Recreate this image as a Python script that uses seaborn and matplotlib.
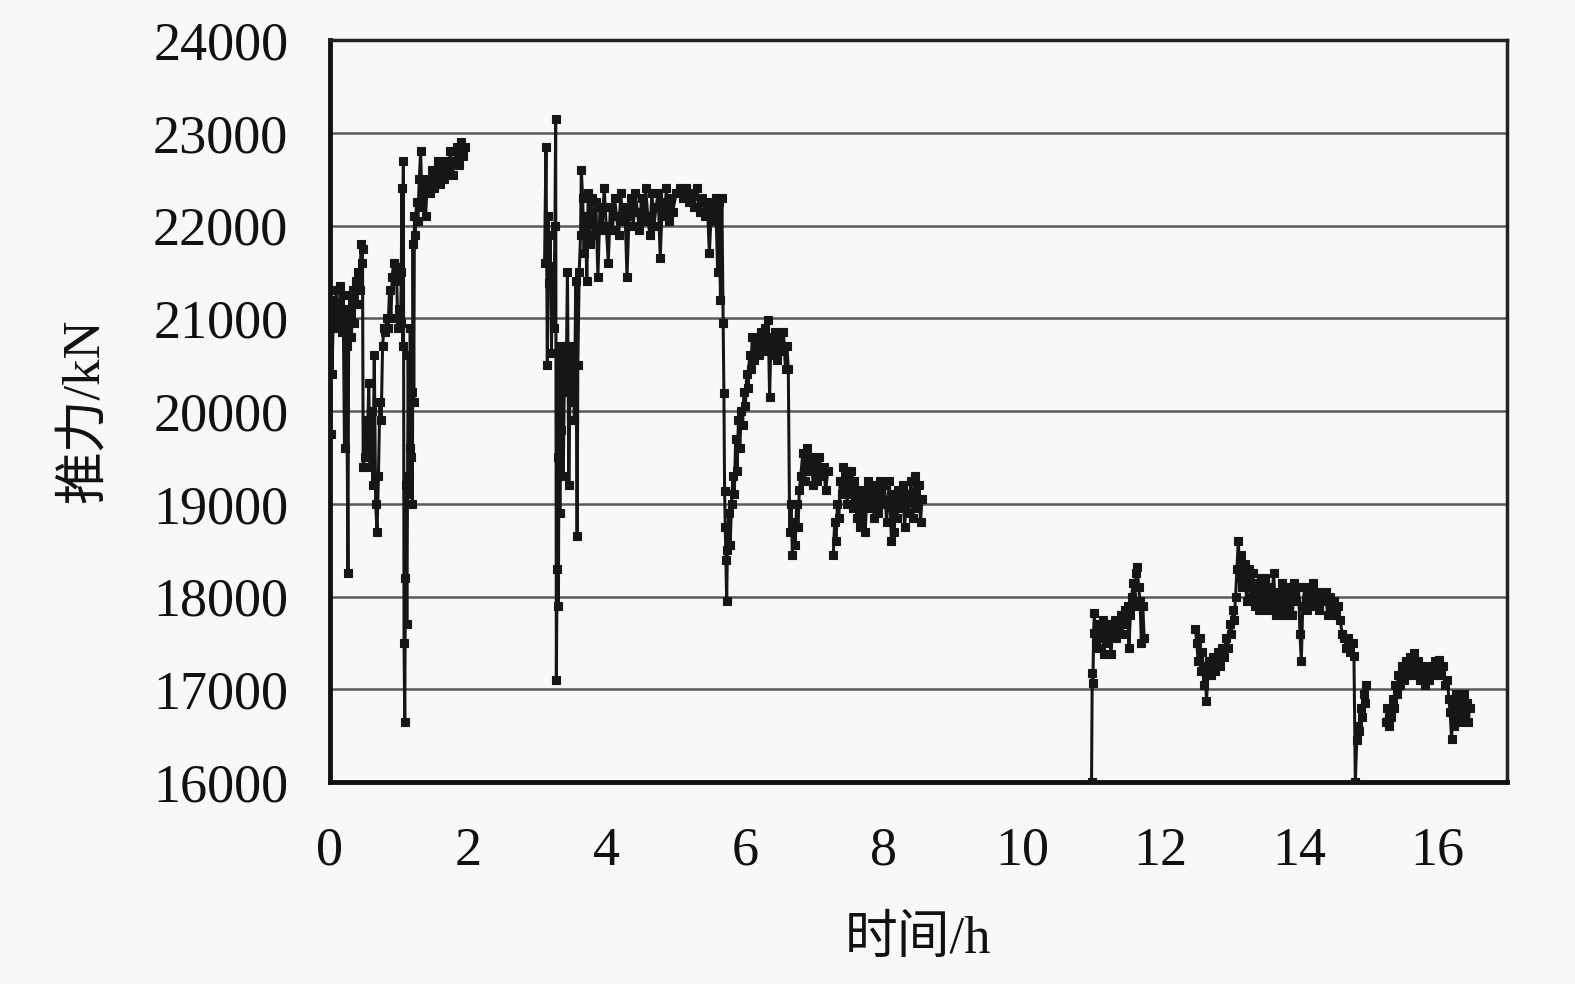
"""
Curva de empuje de la tuneladora (推力) frente al tiempo.
"""

import matplotlib
from matplotlib import pyplot as plt
import seaborn as sns
import pandas as pd

matplotlib.use('Agg')

sns.set_style("white")
# Las fuentes se fijan después de seaborn, que reinicia font.family
plt.rcParams['font.family'] = ['Liberation Serif', 'Noto Sans CJK SC', 'DejaVu Sans']
plt.rcParams['axes.unicode_minus'] = False

# Datos: tiempo (h) y empuje (kN), por tramos continuos
seg1_t = [0.00, 0.01, 0.02, 0.03, 0.05, 0.07, 0.09, 0.11, 0.13, 0.15,
          0.17, 0.19, 0.21, 0.22, 0.24, 0.26, 0.27, 0.29, 0.31, 0.33,
          0.35, 0.37, 0.39, 0.41, 0.43, 0.45, 0.46, 0.47, 0.48, 0.50,
          0.52, 0.54, 0.56, 0.58, 0.60, 0.62, 0.64, 0.66, 0.68, 0.70,
          0.72, 0.74, 0.76, 0.78, 0.80, 0.82, 0.84, 0.86, 0.88, 0.90,
          0.92, 0.94, 0.96, 0.98, 1.00, 1.02, 1.03, 1.04, 1.05, 1.06,
          1.07, 1.08, 1.09, 1.10, 1.11, 1.12, 1.13, 1.14, 1.15, 1.16,
          1.17, 1.18, 1.19, 1.20, 1.21, 1.22, 1.23, 1.25, 1.27, 1.29,
          1.31, 1.33, 1.35, 1.38, 1.41, 1.44, 1.47, 1.50, 1.53, 1.56,
          1.59, 1.62, 1.65, 1.68, 1.71, 1.74, 1.77, 1.80, 1.83, 1.86,
          1.89, 1.92, 1.95]
seg1_f = [21200, 19750, 21000, 20400, 21100, 20900, 21300, 20950, 21050, 21350,
          20850, 21250, 19600, 21100, 20700, 18250, 21000, 21250, 20800, 21300,
          20950, 21400, 21150, 21500, 21300, 21800, 21600, 21750, 19400, 19500,
          19900, 19600, 20300, 19400, 20000, 19200, 20600, 19000, 18700, 19300,
          20100, 19900, 20700, 20900, 20850, 21000, 20900, 21300, 21000, 21450,
          21600, 21400, 21550, 20900, 21100, 20950, 21500, 22400, 20700, 22700,
          17500, 16650, 18200, 19200, 17700, 19100, 20600, 19300, 19600, 20900,
          19500, 20200, 19000, 21800, 20100, 22100, 21900, 22250, 22050, 22500,
          22800, 22200, 22400, 22100, 22500, 22350, 22600, 22400, 22550, 22700,
          22450, 22650, 22500, 22700, 22600, 22800, 22550, 22700, 22850, 22650,
          22900, 22750, 22850]

seg2_t = [3.10, 3.12, 3.14, 3.15, 3.17, 3.18, 3.20, 3.21, 3.23, 3.25,
          3.26, 3.27, 3.28, 3.29, 3.30, 3.31, 3.32, 3.33, 3.35, 3.37,
          3.39, 3.41, 3.43, 3.45, 3.47, 3.49, 3.51, 3.53, 3.55, 3.57,
          3.58, 3.60, 3.62, 3.63, 3.65, 3.67, 3.69, 3.71, 3.73, 3.75,
          3.78, 3.81, 3.84, 3.87, 3.90, 3.93, 3.96, 3.99, 4.02, 4.05,
          4.08, 4.11, 4.14, 4.17, 4.20, 4.23, 4.26, 4.29, 4.32, 4.35,
          4.38, 4.41, 4.44, 4.47, 4.50, 4.53, 4.56, 4.59, 4.62, 4.65,
          4.68, 4.71, 4.74, 4.77, 4.80, 4.83, 4.86, 4.89, 4.92, 4.95,
          5.00, 5.05, 5.10, 5.14, 5.18, 5.22, 5.26, 5.30, 5.34, 5.38,
          5.42, 5.45, 5.48, 5.51, 5.54, 5.57, 5.60, 5.62, 5.64, 5.66,
          5.68, 5.69, 5.70, 5.71, 5.72, 5.73, 5.74, 5.76, 5.78, 5.80,
          5.82, 5.84, 5.86, 5.88, 5.90, 5.92, 5.94, 5.96, 5.98, 6.00,
          6.02, 6.04, 6.06, 6.08, 6.10, 6.13, 6.16, 6.19, 6.22, 6.25,
          6.28, 6.31, 6.33, 6.35, 6.37, 6.40, 6.43, 6.46, 6.49, 6.52,
          6.55, 6.58, 6.60, 6.62, 6.64, 6.66, 6.68, 6.70, 6.72, 6.74,
          6.76, 6.78, 6.80, 6.83, 6.86, 6.89, 6.92, 6.95, 6.98, 7.01,
          7.04, 7.07, 7.10, 7.13, 7.16, 7.19]
seg2_f = [21600, 22850, 20500, 22100, 21380, 21900, 20630, 21560, 20900, 22000,
          23150, 17100, 18300, 19500, 17900, 20700, 18900, 19800, 20600, 19300,
          20700, 20200, 21500, 19200, 20600, 20100, 20700, 19900, 21400, 18650,
          20500, 21500, 21900, 22600, 22300, 21700, 22100, 21400, 22350, 21800,
          22300, 21900, 22250, 21450, 22200, 21950, 22400, 22000, 21600, 22200,
          21950, 22300, 22100, 21900, 22350, 22050, 22200, 21450, 22100, 22300,
          22000, 22350, 22150, 21950, 22300, 22050, 22400, 22100, 21900, 22350,
          22000, 22200, 22350, 21650, 22250, 22100, 22400, 22050, 22300, 22150,
          22350, 22400, 22300, 22400, 22250, 22350, 22200, 22400, 22150, 22300,
          22100, 22250, 21700, 22200, 22050, 22300, 21500, 22250, 21200, 22300,
          20950, 20190, 19140, 18750, 18390, 17950, 18500, 18900, 18550, 19000,
          19300, 19100, 19700, 19350, 19900, 19600, 20000, 19850, 20200, 20050,
          20400, 20250, 20600, 20450, 20800, 20550, 20750, 20600, 20850, 20650,
          20900, 20700, 20980, 20150, 20800, 20600, 20850, 20550, 20800, 20650,
          20850, 20450, 20700, 20450, 18700, 19000, 18450, 18800, 18550, 19000,
          18750, 19150, 19300, 19550, 19250, 19600, 19350, 19500, 19200, 19450,
          19250, 19500, 19300, 19400, 19150, 19350]

seg3_t = [7.27, 7.29, 7.31, 7.33, 7.35, 7.37, 7.39, 7.41, 7.43, 7.45,
          7.47, 7.49, 7.51, 7.53, 7.55, 7.57, 7.59, 7.61, 7.63, 7.65,
          7.67, 7.69, 7.71, 7.73, 7.75, 7.77, 7.80, 7.83, 7.86, 7.89,
          7.92, 7.95, 7.98, 8.01, 8.04, 8.08, 8.11, 8.13, 8.15, 8.17,
          8.19, 8.21, 8.24, 8.27, 8.30, 8.33, 8.36, 8.39, 8.42, 8.45,
          8.48, 8.51, 8.53, 8.55]
seg3_f = [18450, 18800, 18600, 19000, 18850, 19250, 19100, 19400, 19150, 19350,
          19000, 19300, 19100, 19350, 18950, 19250, 19050, 18850, 19150, 18750,
          19050, 18850, 19150, 18700, 19000, 19250, 18950, 19200, 18850, 19150,
          18900, 19250, 19000, 19200, 18800, 19250, 18600, 19100, 18700, 19050,
          18850, 19150, 18950, 19200, 18750, 19100, 18900, 19250, 18850, 19300,
          18950, 19200, 18800, 19050]

seg4_t = [11.00, 11.01, 11.02, 11.03, 11.04, 11.06, 11.08, 11.10, 11.12, 11.14,
          11.16, 11.18, 11.20, 11.22, 11.24, 11.26, 11.28, 11.30, 11.32, 11.34,
          11.36, 11.38, 11.40, 11.42, 11.44, 11.46, 11.48, 11.50, 11.52, 11.54,
          11.56, 11.58, 11.60, 11.62, 11.64, 11.66, 11.68, 11.70, 11.72, 11.74,
          11.76]
seg4_f = [16000, 17180, 17070, 17610, 17820, 17500, 17700, 17450, 17650, 17550,
          17750, 17380, 17600, 17700, 17500, 17650, 17380, 17700, 17600, 17750,
          17550, 17700, 17650, 17800, 17600, 17750, 17850, 17700, 17900, 17450,
          17800, 18000, 18150, 17900, 18250, 18320, 18100, 17950, 17500, 17900,
          17550]

seg5_t = [12.50, 12.52, 12.54, 12.56, 12.58, 12.60, 12.62, 12.64, 12.66, 12.68,
          12.70, 12.73, 12.76, 12.79, 12.82, 12.85, 12.88, 12.91, 12.94, 12.97,
          13.00, 13.02, 13.04, 13.06, 13.08, 13.10, 13.12, 13.14, 13.16, 13.18,
          13.21, 13.24, 13.27, 13.30, 13.33, 13.36, 13.39, 13.42, 13.45, 13.48,
          13.51, 13.54, 13.57, 13.60, 13.63, 13.66, 13.69, 13.72, 13.75, 13.78,
          13.81, 13.84, 13.87, 13.90, 13.93, 13.96, 13.99, 14.01, 14.03, 14.05,
          14.08, 14.11, 14.14, 14.17, 14.20, 14.23, 14.26, 14.29, 14.32, 14.35,
          14.38, 14.41, 14.44, 14.47, 14.50, 14.53, 14.56, 14.59, 14.62, 14.65,
          14.68, 14.71, 14.74, 14.77, 14.79, 14.81, 14.83, 14.85, 14.87, 14.89,
          14.91, 14.93, 14.95, 14.97]
seg5_f = [17650, 17500, 17300, 17550, 17200, 17400, 17050, 17250, 16870, 17150,
          17300, 17150, 17350, 17200, 17400, 17250, 17450, 17350, 17550, 17450,
          17700, 17600, 17850, 17750, 18000, 18300, 18600, 18200, 18450, 18100,
          18350, 17950, 18300, 18000, 18250, 17900, 18150, 17850, 18200, 17950,
          18200, 17850, 18100, 17900, 18250, 17800, 18050, 17850, 18150, 17800,
          18050, 17900, 18100, 17800, 18150, 17950, 18100, 17600, 17300, 17900,
          18100, 17850, 18050, 17950, 18150, 17900, 18050, 17850, 18000, 17950,
          18050, 17800, 18000, 17850, 17950, 17800, 17900, 17750, 17600, 17550,
          17450, 17550, 17400, 17500, 17360, 16000, 16450, 16600, 16550, 16800,
          16700, 16950, 16850, 17050]

seg6_t = [15.25, 15.27, 15.29, 15.31, 15.33, 15.35, 15.37, 15.39, 15.41, 15.43,
          15.45, 15.48, 15.51, 15.54, 15.57, 15.60, 15.63, 15.66, 15.69, 15.72,
          15.75, 15.78, 15.81, 15.84, 15.87, 15.90, 15.93, 15.96, 15.99, 16.02,
          16.05, 16.08, 16.11, 16.14, 16.16, 16.18, 16.20, 16.22, 16.24, 16.26,
          16.28, 16.30, 16.32, 16.34, 16.36, 16.38, 16.40, 16.42, 16.44, 16.46]
seg6_f = [16650, 16800, 16600, 16750, 16700, 16900, 16800, 17050, 16950, 17150,
          17050, 17250, 17100, 17300, 17150, 17350, 17200, 17390, 17150, 17300,
          17100, 17250, 17050, 17200, 17100, 17250, 17150, 17300, 17200, 17320,
          17150, 17250, 17050, 17100, 16900, 16750, 16460, 16800, 16600, 16950,
          16700, 16900, 16650, 16850, 16750, 16950, 16700, 16850, 16650, 16800]

x_ticks = [0, 2, 4, 6, 8, 10, 12, 14, 16]
y_ticks = [16000, 17000, 18000, 19000, 20000, 21000, 22000, 23000, 24000]

# Tabla larga con un identificador de tramo para que las líneas no se unan
tramos = [(seg1_t, seg1_f), (seg2_t, seg2_f), (seg3_t, seg3_f),
          (seg4_t, seg4_f), (seg5_t, seg5_f), (seg6_t, seg6_f)]
df = pd.concat([pd.DataFrame({'tiempo': t, 'empuje': f, 'tramo': i})
                for i, (t, f) in enumerate(tramos)], ignore_index=True)

fondo = '#f8f8f8'
fig = plt.figure(figsize=(15.75, 9.84), dpi=100, facecolor=fondo)
ax = fig.add_axes([0.2095, 0.2053, 0.7473, 0.754])
ax.set_facecolor(fondo)

sns.lineplot(data=df, x='tiempo', y='empuje', units='tramo', estimator=None,
             sort=False, color='#161616', linewidth=2.2, marker='s',
             markersize=5.5, markeredgewidth=0.8, markeredgecolor='#161616',
             ax=ax, zorder=3)

ax.set_xlim(0, 17)
ax.set_ylim(16000, 24000)
ax.set_xticks(x_ticks)
ax.set_yticks(y_ticks)

# Rejilla horizontal gris
ax.yaxis.grid(True, color='#5a5a5a', linewidth=1.8)
ax.xaxis.grid(False)
ax.set_axisbelow(True)

for lado in ['left', 'bottom']:
    ax.spines[lado].set_linewidth(3.5)
    ax.spines[lado].set_color('#111111')
for lado in ['top', 'right']:
    ax.spines[lado].set_linewidth(2.5)
    ax.spines[lado].set_color('#222222')

ax.tick_params(axis='y', direction='in', length=8, width=2, pad=30,
               labelsize=39, colors='#111111')
ax.tick_params(axis='x', direction='in', length=6, width=2, pad=32,
               labelsize=39, colors='#111111')

ax.set_xlabel('时间/h', fontsize=38, color='#111111')
ax.set_ylabel('推力/kN', fontsize=38, color='#111111')
ax.xaxis.set_label_coords(0.5, -0.18)
ax.yaxis.set_label_coords(-0.188, 0.5)

plt.savefig('out.png', dpi=100, facecolor=fondo)
plt.close(fig)
